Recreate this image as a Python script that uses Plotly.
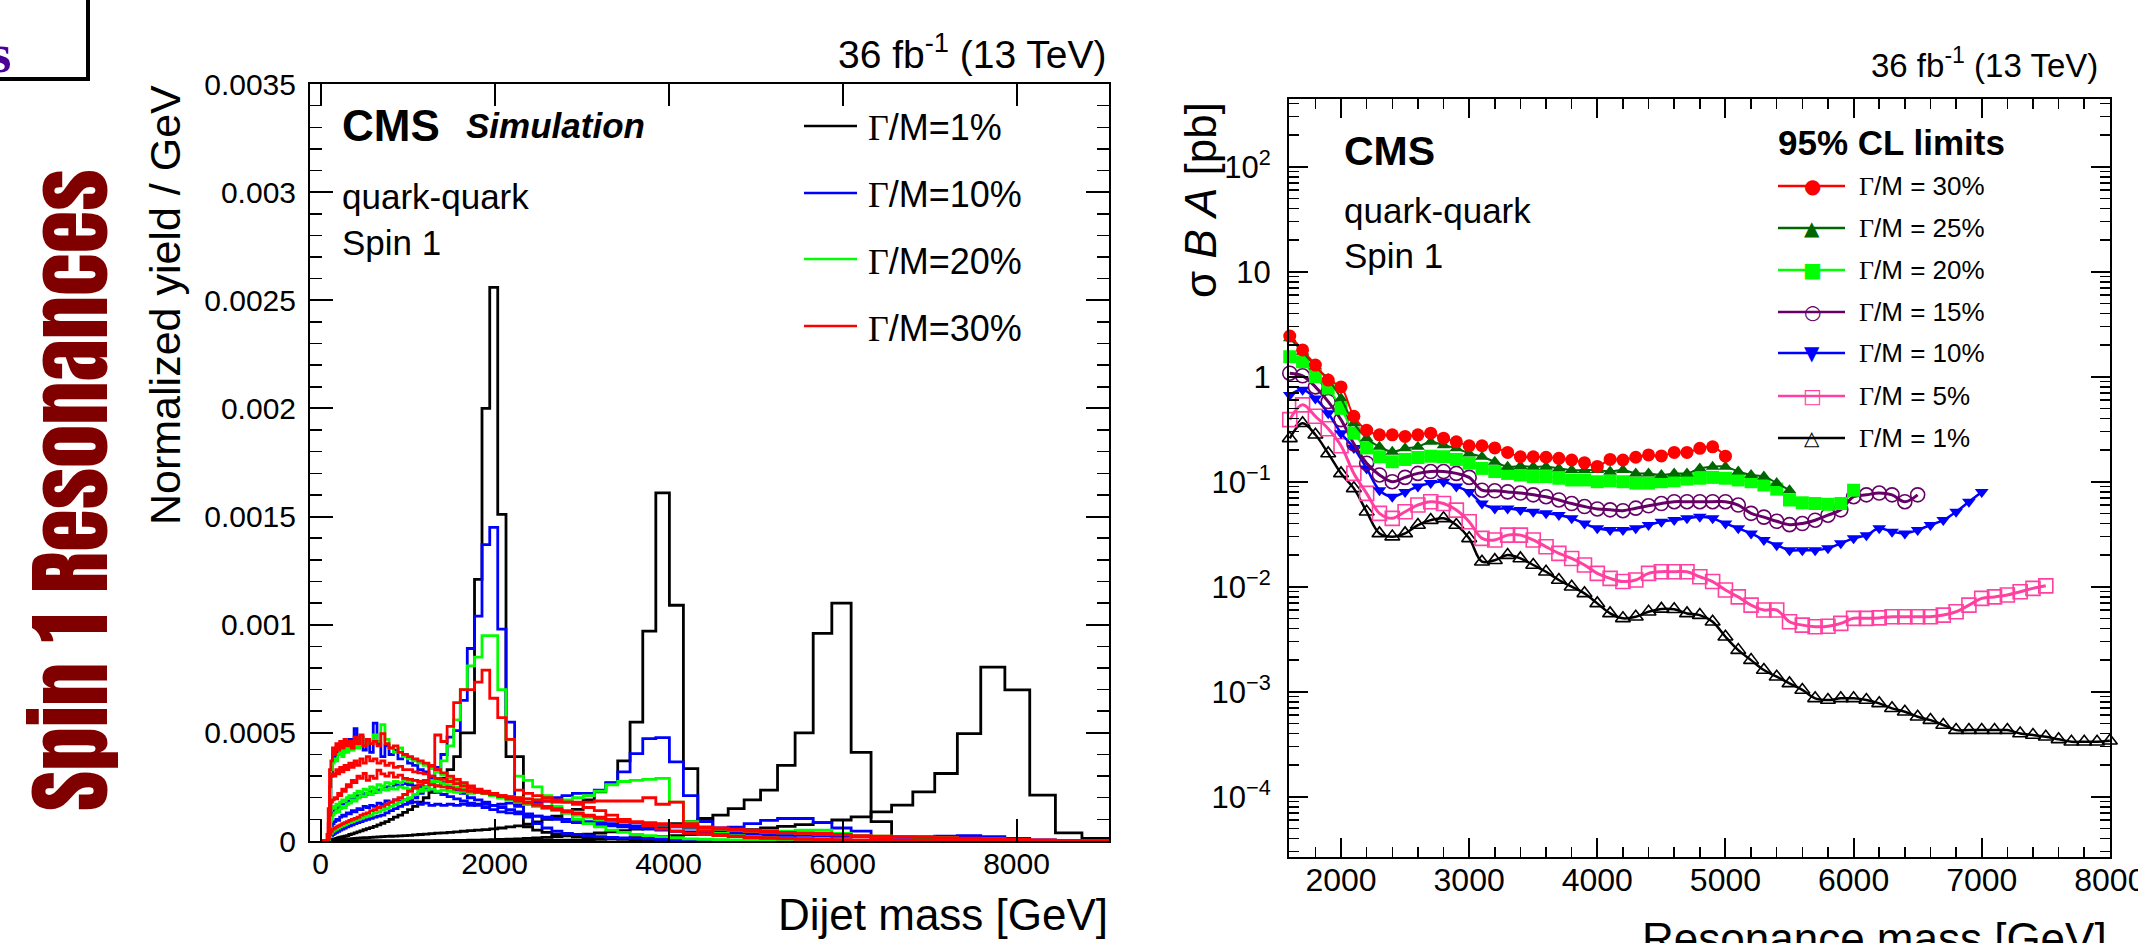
import plotly.graph_objects as go

W, H = 2138, 943
SANS = "Liberation Sans, Arial, Helvetica, sans-serif"

# ---------------- Left panel: dijet mass shapes (values in units of 1e-4 per GeV) ----------------
mjj_edges = [1, 3, 6, 10, 16, 23, 31, 40, 50, 61,
             74, 88, 103, 119, 137, 156, 176, 197, 220, 244,
             270, 296, 325, 354, 386, 419, 453, 489, 526, 565,
             606, 649, 693, 740, 788, 838, 890, 944, 1000, 1058,
             1118, 1181, 1246, 1313, 1383, 1455, 1530, 1607, 1687, 1770,
             1856, 1945, 2037, 2132, 2231, 2332, 2438, 2546, 2659, 2775,
             2895, 3019, 3147, 3279, 3416, 3558, 3704, 3854, 4010, 4171,
             4337, 4509, 4686, 4869, 5058, 5253, 5455, 5663, 5877, 6099,
             6328, 6564, 6808, 7060, 7320, 7589, 7866, 8152, 8447, 8752,
             9067]
yield_unit = 1e-4

w1_m2000 = [0, 0, 0, 0, 0, 0, 0, 0, 0, 0,
            0, 0, 0.03, 0.05, 0.08, 0.1, 0.12, 0.15, 0.18, 0.2,
            0.22, 0.25, 0.3, 0.33, 0.38, 0.42, 0.47, 0.52, 0.57, 0.62,
            0.68, 0.75, 0.82, 0.9, 1.0, 1.1, 1.2, 1.32, 1.45, 1.6,
            1.8, 2.0, 2.25, 2.55, 2.9, 3.3, 3.9, 5.0, 5.0, 12.1,
            20.0, 25.6, 15.1, 3.9, 3.9, 0.66, 0.5, 0.4, 0.3, 0.25,
            0.2, 0.15, 0.12, 0.1, 0.08, 0.06, 0.05, 0.04, 0.03, 0.02,
            0.02, 0.01, 0.01, 0, 0, 0, 0, 0, 0, 0,
            0, 0, 0, 0, 0, 0, 0, 0, 0, 0]
w1_m4000 = [0, 0, 0, 0, 0, 0, 0, 0, 0, 0,
            0, 0, 0, 0.01, 0.02, 0.03, 0.04, 0.05, 0.06, 0.07,
            0.08, 0.09, 0.1, 0.11, 0.12, 0.13, 0.14, 0.15, 0.16, 0.17,
            0.18, 0.19, 0.2, 0.21, 0.22, 0.23, 0.24, 0.25, 0.26, 0.28,
            0.3, 0.32, 0.34, 0.36, 0.38, 0.4, 0.42, 0.45, 0.48, 0.5,
            0.53, 0.56, 0.6, 0.65, 0.7, 0.78, 0.88, 1.0, 1.15, 1.3,
            1.46, 1.9, 2.27, 2.7, 3.7, 5.5, 9.7, 16.1, 10.9, 3.35,
            1.05, 0.5, 0.3, 0.2, 0.15, 0.1, 0.08, 0.05, 0.03, 0.02,
            0.01, 0.01, 0, 0, 0, 0, 0, 0, 0, 0]
w1_m6000 = [0, 0, 0, 0, 0, 0, 0, 0, 0, 0,
            0, 0, 0, 0, 0, 0, 0, 0, 0, 0,
            0, 0, 0, 0, 0, 0, 0, 0, 0, 0,
            0, 0, 0, 0, 0, 0, 0, 0, 0, 0,
            0.01, 0.01, 0.01, 0.02, 0.02, 0.02, 0.03, 0.03, 0.04, 0.04,
            0.05, 0.06, 0.07, 0.08, 0.1, 0.12, 0.14, 0.17, 0.2, 0.24,
            0.28, 0.32, 0.37, 0.42, 0.48, 0.55, 0.62, 0.7, 0.8, 0.9,
            1.0, 1.2, 1.5, 1.9, 2.35, 3.5, 5.0, 9.6, 11.0, 4.1,
            0.9, 0.2, 0.1, 0.05, 0.02, 0, 0, 0, 0, 0]
w1_m8000 = [0, 0, 0, 0, 0, 0, 0, 0, 0, 0,
            0, 0, 0, 0, 0, 0, 0, 0, 0, 0,
            0, 0, 0, 0, 0, 0, 0, 0, 0, 0,
            0, 0, 0, 0, 0, 0, 0, 0, 0, 0,
            0, 0, 0, 0, 0, 0, 0, 0, 0, 0,
            0.01, 0.01, 0.01, 0.02, 0.02, 0.02, 0.03, 0.03, 0.04, 0.04,
            0.05, 0.06, 0.08, 0.1, 0.12, 0.15, 0.18, 0.21, 0.25, 0.3,
            0.35, 0.4, 0.46, 0.52, 0.6, 0.68, 0.76, 0.85, 0.97, 1.12,
            1.35, 1.66, 2.27, 3.12, 4.96, 8.04, 6.99, 2.12, 0.38, 0.12]

w10_m2000 = [0, 0, 0, 0, 0, 0, 0, 0, 0, 0,
             0, 0.05, 0.15, 0.25, 0.3, 0.35, 0.4, 0.45, 0.5, 0.55,
             0.6, 0.65, 0.7, 0.75, 0.8, 0.85, 0.9, 0.95, 1.0, 1.05,
             1.1, 1.15, 1.2, 1.3, 1.4, 1.5, 1.6, 1.7, 1.85, 2.0,
             2.2, 2.5, 2.9, 3.4, 4.0, 4.8, 5.1, 6.5, 8.9, 10.4,
             13.7, 14.5, 9.8, 5.5, 1.6, 1.1, 0.8, 0.6, 0.45, 0.35,
             0.3, 0.25, 0.2, 0.17, 0.14, 0.12, 0.1, 0.08, 0.07, 0.06,
             0.05, 0.04, 0.03, 0.02, 0.02, 0.01, 0.01, 0, 0, 0,
             0, 0, 0, 0, 0, 0, 0, 0, 0, 0]
w10_m4000 = [0, 0, 0, 0, 0, 0, 0, 0, 0, 0,
             0, 0.1, 0.4, 0.7, 0.8, 0.9, 1.0, 0.95, 1.1, 1.2,
             1.15, 1.3, 1.25, 1.4, 1.35, 1.5, 1.45, 1.6, 1.55, 1.65,
             1.6, 1.75, 1.7, 1.85, 1.8, 1.9, 1.85, 1.9, 1.75, 1.8,
             1.7, 1.75, 1.65, 1.7, 1.65, 1.7, 1.65, 1.7, 1.65, 1.7,
             1.7, 1.65, 1.7, 1.75, 1.7, 1.75, 1.8, 1.85, 2.0, 2.1,
             2.2, 2.2, 2.35, 2.66, 3.2, 4.04, 4.73, 4.78, 3.66, 2.1,
             0.9, 0.5, 0.35, 0.25, 0.2, 0.15, 0.1, 0.08, 0.05, 0.03,
             0.02, 0.01, 0, 0, 0, 0, 0, 0, 0, 0]
w10_m6000 = [0, 0, 0, 0, 0, 0, 0, 0, 0, 0,
             0, 0.2, 0.8, 1.2, 1.3, 1.4, 1.35, 1.55, 1.5, 1.7,
             1.65, 1.85, 1.8, 2.0, 1.95, 2.1, 2.05, 2.2, 2.15, 2.3,
             2.25, 2.35, 2.4, 2.5, 2.45, 2.6, 2.55, 2.65, 2.6, 2.55,
             2.5, 2.45, 2.35, 2.25, 2.15, 2.05, 1.95, 1.85, 1.75, 1.65,
             1.55, 1.45, 1.35, 1.3, 1.25, 1.2, 1.15, 1.1, 1.05, 1.0,
             0.95, 0.9, 0.85, 0.8, 0.75, 0.7, 0.7, 0.65, 0.65, 0.6,
             0.6, 0.6, 0.64, 0.8, 0.95, 1.04, 1.04, 0.85, 0.6, 0.46,
             0.15, 0.05, 0, 0, 0, 0, 0, 0, 0, 0]
w10_m8000 = [0, 0, 0, 0, 0, 0, 0, 0, 0, 0,
             0, 0.3, 1.5, 3.0, 4.0, 3.7, 4.3, 4.0, 4.5, 4.1,
             4.6, 4.2, 4.7, 4.3, 5.2, 4.4, 4.8, 4.2, 4.6, 4.1,
             5.45, 4.5, 3.9, 4.4, 4.0, 4.2, 3.8, 3.9, 3.6, 3.5,
             3.3, 3.2, 3.0, 2.8, 2.7, 2.5, 2.3, 2.2, 2.0, 1.9,
             1.8, 1.65, 1.55, 1.45, 1.35, 1.25, 1.15, 1.05, 1.0, 0.9,
             0.85, 0.8, 0.75, 0.7, 0.65, 0.6, 0.55, 0.5, 0.45, 0.42,
             0.4, 0.38, 0.35, 0.33, 0.3, 0.28, 0.26, 0.24, 0.22, 0.2,
             0.2, 0.18, 0.2, 0.22, 0.25, 0.2, 0.12, 0.05, 0.02, 0]

w20_m2000 = [0, 0, 0, 0, 0, 0, 0, 0, 0, 0,
             0, 0.05, 0.2, 0.35, 0.45, 0.5, 0.55, 0.6, 0.65, 0.7,
             0.75, 0.8, 0.85, 0.9, 0.95, 1.0, 1.05, 1.1, 1.15, 1.2,
             1.3, 1.35, 1.45, 1.5, 1.6, 1.7, 1.8, 1.9, 2.0, 2.15,
             2.3, 2.5, 2.8, 3.2, 3.7, 4.4, 5.6, 7.0, 8.1, 8.5,
             9.5, 9.5, 7.0, 4.7, 3.0, 2.8, 2.5, 2.1, 1.6, 1.3,
             1.0, 0.8, 0.65, 0.5, 0.4, 0.3, 0.25, 0.2, 0.15, 0.1,
             0.08, 0.06, 0.05, 0.04, 0.03, 0.02, 0.01, 0, 0, 0,
             0, 0, 0, 0, 0, 0, 0, 0, 0, 0]
w20_m4000 = [0, 0, 0, 0, 0, 0, 0, 0, 0, 0,
             0, 0.1, 0.6, 1.0, 1.2, 1.3, 1.4, 1.35, 1.5, 1.6,
             1.55, 1.7, 1.75, 1.9, 1.85, 2.0, 2.1, 2.05, 2.2, 2.15,
             2.3, 2.25, 2.4, 2.35, 2.45, 2.4, 2.5, 2.45, 2.4, 2.45,
             2.4, 2.35, 2.4, 2.3, 2.35, 2.3, 2.25, 2.3, 2.2, 2.25,
             2.2, 2.15, 2.1, 2.05, 2.0, 1.95, 1.9, 1.9, 1.85, 1.9,
             2.0, 2.1, 2.3, 2.6, 2.75, 2.8, 2.85, 2.9, 1.8, 0.9,
             0.5, 0.35, 0.25, 0.2, 0.15, 0.1, 0.08, 0.05, 0.03, 0.02,
             0.01, 0, 0, 0, 0, 0, 0, 0, 0, 0]
w20_m6000 = [0, 0, 0, 0, 0, 0, 0, 0, 0, 0,
             0, 0.2, 0.9, 1.5, 1.6, 1.55, 1.7, 1.65, 1.8, 1.9,
             1.85, 2.0, 2.1, 2.05, 2.2, 2.3, 2.25, 2.4, 2.35, 2.5,
             2.45, 2.6, 2.55, 2.7, 2.65, 2.75, 2.7, 2.8, 2.75, 2.8,
             2.75, 2.8, 2.7, 2.75, 2.65, 2.6, 2.5, 2.45, 2.35, 2.3,
             2.2, 2.1, 2.0, 1.9, 1.8, 1.7, 1.6, 1.5, 1.4, 1.3,
             1.2, 1.1, 1.0, 0.95, 0.9, 0.85, 0.8, 0.75, 0.7, 0.65,
             0.6, 0.55, 0.5, 0.48, 0.46, 0.46, 0.5, 0.5, 0.35, 0.2,
             0.08, 0.03, 0, 0, 0, 0, 0, 0, 0, 0]
w20_m8000 = [0, 0, 0, 0, 0, 0, 0, 0, 0, 0,
             0, 0.3, 1.8, 3.3, 3.6, 3.8, 3.7, 4.0, 4.2, 3.9,
             4.3, 4.1, 4.4, 4.2, 4.6, 4.3, 4.8, 4.4, 4.7, 4.5,
             4.9, 4.6, 5.38, 4.7, 4.3, 4.1, 4.3, 3.9, 3.8, 3.7,
             3.6, 3.5, 3.35, 3.2, 3.05, 2.9, 2.75, 2.6, 2.45, 2.3,
             2.2, 2.1, 2.0, 1.9, 1.8, 1.7, 1.6, 1.5, 1.4, 1.3,
             1.2, 1.1, 1.0, 0.95, 0.9, 0.85, 0.8, 0.75, 0.7, 0.65,
             0.6, 0.55, 0.5, 0.45, 0.4, 0.38, 0.35, 0.33, 0.3, 0.25,
             0.22, 0.2, 0.18, 0.15, 0.12, 0.1, 0.06, 0.03, 0.01, 0]

w30_m2000 = [0, 0, 0, 0, 0, 0, 0, 0, 0, 0,
             0, 0.1, 0.3, 0.45, 0.55, 0.6, 0.65, 0.7, 0.75, 0.8,
             0.85, 0.9, 0.95, 1.0, 1.05, 1.1, 1.2, 1.25, 1.3, 1.4,
             1.45, 1.55, 1.6, 1.7, 1.8, 1.9, 2.0, 2.15, 2.3, 2.45,
             2.6, 2.8, 3.5, 4.9, 4.6, 5.3, 6.4, 7.0, 7.0, 7.35,
             7.9, 6.6, 5.7, 4.7, 2.35, 2.2, 2.1, 2.0, 1.9, 1.8,
             1.7, 1.55, 1.4, 1.2, 1.0, 0.85, 0.7, 0.55, 0.45, 0.35,
             0.3, 0.25, 0.2, 0.15, 0.12, 0.1, 0.08, 0.05, 0.03, 0.02,
             0.01, 0, 0, 0, 0, 0, 0, 0, 0, 0]
w30_m4000 = [0, 0, 0, 0, 0, 0, 0, 0, 0, 0,
             0, 0.4, 1.2, 1.8, 1.9, 2.0, 1.95, 2.2, 2.1, 2.4,
             2.3, 2.6, 2.5, 2.8, 2.7, 3.0, 2.9, 3.12, 2.8, 3.0,
             2.9, 3.27, 3.1, 3.0, 3.15, 2.95, 3.05, 2.9, 2.85, 2.8,
             2.75, 2.7, 2.6, 2.55, 2.5, 2.45, 2.4, 2.35, 2.3, 2.25,
             2.2, 2.15, 2.1, 2.05, 2.0, 1.95, 1.9, 1.85, 1.8, 1.8,
             1.8, 1.8, 1.85, 1.85, 1.85, 1.85, 2.0, 1.7, 1.8, 0.8,
             0.45, 0.3, 0.22, 0.18, 0.15, 0.12, 0.1, 0.08, 0.06, 0.05,
             0.04, 0.03, 0.02, 0.01, 0, 0, 0, 0, 0, 0]
w30_m6000 = [0, 0, 0, 0, 0, 0, 0, 0, 0, 0,
             0, 0.8, 2.5, 3.0, 3.1, 3.0, 3.3, 3.1, 3.4, 3.2,
             3.5, 3.3, 3.6, 3.4, 3.7, 3.5, 3.8, 3.6, 3.9, 3.7,
             3.8, 3.6, 3.7, 3.5, 3.6, 3.4, 3.45, 3.3, 3.3, 3.2,
             3.15, 3.1, 3.0, 2.9, 2.85, 2.75, 2.65, 2.55, 2.45, 2.35,
             2.25, 2.15, 2.05, 1.95, 1.85, 1.75, 1.65, 1.55, 1.45, 1.35,
             1.25, 1.15, 1.05, 0.95, 0.9, 0.85, 0.8, 0.75, 0.7, 0.65,
             0.6, 0.55, 0.5, 0.45, 0.4, 0.38, 0.38, 0.36, 0.3, 0.2,
             0.1, 0.05, 0.02, 0, 0, 0, 0, 0, 0, 0]
w30_m8000 = [0, 0, 0, 0, 0, 0, 0, 0, 0, 0,
             0.3, 1.5, 3.3, 3.7, 4.3, 4.0, 4.5, 4.2, 4.6, 4.3,
             4.7, 4.4, 4.6, 4.3, 4.8, 4.5, 4.9, 4.4, 4.7, 4.5,
             4.6, 4.4, 4.96, 4.5, 4.3, 4.4, 4.1, 4.0, 3.9, 3.8,
             3.7, 3.6, 3.45, 3.3, 3.15, 3.0, 2.85, 2.7, 2.55, 2.4,
             2.3, 2.2, 2.1, 2.0, 1.9, 1.8, 1.7, 1.6, 1.5, 1.4,
             1.3, 1.2, 1.1, 1.0, 0.95, 0.9, 0.85, 0.8, 0.75, 0.7,
             0.65, 0.6, 0.55, 0.5, 0.45, 0.4, 0.35, 0.3, 0.28, 0.25,
             0.22, 0.2, 0.18, 0.15, 0.13, 0.1, 0.08, 0.05, 0.03, 0.01]

left_series = [
    ("Γ/M=1%", "#000000", [w1_m2000, w1_m4000, w1_m6000, w1_m8000]),
    ("Γ/M=10%", "#0000FF", [w10_m2000, w10_m4000, w10_m6000, w10_m8000]),
    ("Γ/M=20%", "#00FF00", [w20_m2000, w20_m4000, w20_m6000, w20_m8000]),
    ("Γ/M=30%", "#FF0000", [w30_m2000, w30_m4000, w30_m6000, w30_m8000]),
]
left_xtick_vals = [0, 2000, 4000, 6000, 8000]
left_xtick_text = ["0", "2000", "4000", "6000", "8000"]
left_ytick_vals = [0, 0.0005, 0.001, 0.0015, 0.002, 0.0025, 0.003, 0.0035]
left_ytick_text = ["0", "0.0005", "0.001", "0.0015", "0.002", "0.0025", "0.003", "0.0035"]

# ---------------- Right panel: 95% CL limits on sigma*B*A [pb] ----------------
res_mass = [1600, 1700, 1800, 1900, 2000, 2100, 2200, 2300, 2400, 2500,
            2600, 2700, 2800, 2900, 3000, 3100, 3200, 3300, 3400, 3500,
            3600, 3700, 3800, 3900, 4000, 4100, 4200, 4300, 4400, 4500,
            4600, 4700, 4800, 4900, 5000, 5100, 5200, 5300, 5400, 5500,
            5600, 5700, 5800, 5900, 6000, 6100, 6200, 6300, 6400, 6500,
            6600, 6700, 6800, 6900, 7000, 7100, 7200, 7300, 7400, 7500,
            7600, 7700, 7800, 7900, 8000]
limit_w30 = [2.44, 1.80, 1.29, 0.93, 0.80, 0.42, 0.31, 0.28, 0.28, 0.27,
             0.28, 0.29, 0.26, 0.24, 0.22, 0.22, 0.21, 0.19, 0.173, 0.173,
             0.171, 0.167, 0.161, 0.152, 0.14, 0.163, 0.161, 0.171, 0.180, 0.176,
             0.19, 0.19, 0.208, 0.215, 0.175]
limit_w25 = [2.32, 1.73, 1.25, 0.95, 0.62, 0.36, 0.26, 0.215, 0.193, 0.208,
             0.215, 0.24, 0.223, 0.208, 0.186, 0.173, 0.155, 0.139, 0.141, 0.139,
             0.139, 0.134, 0.129, 0.129, 0.129, 0.125, 0.129, 0.120, 0.120, 0.116,
             0.120, 0.120, 0.134, 0.139, 0.139, 0.125, 0.116, 0.112, 0.097, 0.083]
limit_w20 = [1.55, 1.39, 1.0, 0.78, 0.50, 0.29, 0.21, 0.173, 0.155, 0.163,
             0.170, 0.175, 0.173, 0.163, 0.15, 0.134, 0.125, 0.12, 0.116, 0.112,
             0.112, 0.108, 0.104, 0.104, 0.100, 0.102, 0.100, 0.097, 0.097, 0.100,
             0.102, 0.106, 0.108, 0.110, 0.108, 0.104, 0.100, 0.093, 0.085, 0.067,
             0.063, 0.062, 0.061, 0.062, 0.083]
limit_w15 = [1.08, 1.02, 0.80, 0.58, 0.39, 0.23, 0.15, 0.116, 0.100, 0.110,
             0.12, 0.125, 0.125, 0.12, 0.11, 0.083, 0.082, 0.080, 0.078, 0.075,
             0.072, 0.067, 0.062, 0.058, 0.055, 0.054, 0.053, 0.056, 0.059, 0.062,
             0.0645, 0.0645, 0.0645, 0.0645, 0.0645, 0.060, 0.050, 0.046, 0.042, 0.039,
             0.040, 0.043, 0.048, 0.054, 0.072, 0.075, 0.078, 0.075, 0.0645, 0.075]
limit_w10 = [0.67, 0.75, 0.62, 0.45, 0.29, 0.21, 0.134, 0.083, 0.072, 0.080,
             0.090, 0.097, 0.100, 0.090, 0.080, 0.062, 0.0557, 0.0557, 0.0537, 0.0518,
             0.050, 0.0482, 0.0448, 0.040, 0.036, 0.0347, 0.0347, 0.036, 0.0387, 0.0416,
             0.0431, 0.0448, 0.0464, 0.0448, 0.040, 0.036, 0.0322, 0.0279, 0.0249, 0.0223,
             0.0223, 0.0223, 0.0232, 0.0259, 0.0289, 0.031, 0.036, 0.0334, 0.0322, 0.0347,
             0.0387, 0.0431, 0.0518, 0.0645, 0.080]
limit_w5 = [0.39, 0.54, 0.42, 0.32, 0.22, 0.12, 0.0775, 0.050, 0.0448, 0.0518,
            0.060, 0.0645, 0.062, 0.0537, 0.0416, 0.0289, 0.0279, 0.031, 0.031, 0.0279,
            0.024, 0.0208, 0.0186, 0.0161, 0.0134, 0.012, 0.0112, 0.0116, 0.0134, 0.0139,
            0.0139, 0.0139, 0.01245, 0.0112, 0.0093, 0.0080, 0.00668, 0.0060, 0.0060, 0.00464,
            0.00431, 0.00416, 0.0042, 0.00448, 0.0050, 0.0050, 0.00505, 0.00518, 0.00518, 0.00518,
            0.00518, 0.00537, 0.00578, 0.00668, 0.00775, 0.0080, 0.00834, 0.00896, 0.00965, 0.0102]
limit_w1 = [0.259, 0.36, 0.28, 0.186, 0.12, 0.0865, 0.0518, 0.0322, 0.030, 0.0322,
            0.0387, 0.0431, 0.0448, 0.0387, 0.0289, 0.0173, 0.0179, 0.020, 0.0186, 0.0161,
            0.0139, 0.0116, 0.010, 0.00865, 0.00694, 0.00557, 0.0050, 0.00518, 0.00578, 0.00615,
            0.0061, 0.00557, 0.00537, 0.00464, 0.00334, 0.00249, 0.0020, 0.00161, 0.00139, 0.0012,
            0.00104, 0.000865, 0.000834, 0.000865, 0.000865, 0.000834, 0.000775, 0.000695, 0.000645, 0.000578,
            0.000537, 0.000482, 0.000431, 0.000431, 0.000431, 0.000431, 0.000431, 0.0004, 0.000387, 0.000373,
            0.000352, 0.000334, 0.000334, 0.000334, 0.000341]

right_series = [
    ("Γ/M = 30%", limit_w30, "#FF0000", "circle", 13, 2, "●"),
    ("Γ/M = 25%", limit_w25, "#006600", "triangle-up", 12, 2, "▲"),
    ("Γ/M = 20%", limit_w20, "#00FF00", "square", 13, 2, "■"),
    ("Γ/M = 15%", limit_w15, "#660066", "circle-open", 14, 3, "○"),
    ("Γ/M = 10%", limit_w10, "#0000FF", "triangle-down", 12, 2.5, "▼"),
    ("Γ/M = 5%", limit_w5, "#FF40A0", "square-open", 14, 3, "□"),
    ("Γ/M = 1%", limit_w1, "#000000", "triangle-up-open", 13, 2.5, "△"),
]
right_xtick_vals = [2000, 3000, 4000, 5000, 6000, 7000, 8000]
right_xtick_text = ["2000", "3000", "4000", "5000", "6000", "7000", "8000"]
right_ytick_vals = [1e-4, 1e-3, 1e-2, 1e-1, 1, 10, 100]
right_ytick_text = ["10<sup>−4</sup>", "10<sup>−3</sup>", "10<sup>−2</sup>", "10<sup>−1</sup>",
                    "1", "10", "10<sup>2</sup>"]


# ---------------- helpers for placement in canvas pixels ----------------
def px(x):
    return x / W


def py(y):
    return 1 - y / H


def ann(text, x, y, size, xanchor="left", yanchor="middle", color="black",
        family=SANS, angle=0, weight="normal", style="normal"):
    return dict(text=text, x=px(x), y=py(y), xref="paper", yref="paper",
                xanchor=xanchor, yanchor=yanchor, showarrow=False, textangle=angle,
                borderpad=0, borderwidth=0,
                font=dict(size=size, color=color, family=family, weight=weight, style=style))


def gamma(txt):
    return '<span style="font-family:Liberation Serif, Times New Roman, serif">Γ</span>' + txt


fig = go.Figure()

for label, color, hists in left_series:
    for vals in hists:
        yv = [v * yield_unit for v in vals]
        fig.add_trace(go.Scatter(
            x=mjj_edges, y=yv + [yv[-1]], mode="lines", line_shape="hv",
            line=dict(color=color, width=2.8), xaxis="x", yaxis="y",
            showlegend=False, hoverinfo="skip"))

for label, vals, color, symbol, msize, lw, glyph in reversed(right_series):
    fig.add_trace(go.Scatter(
        x=res_mass[:len(vals)], y=vals, mode="lines+markers",
        line=dict(color=color, width=lw, shape="spline", smoothing=1.0),
        marker=dict(symbol=symbol, size=msize, color=color,
                    line=dict(color=color, width=1.6 if "open" in symbol else 0)),
        xaxis="x2", yaxis="y2", cliponaxis=False, showlegend=False, hoverinfo="skip"))

axis_common = dict(showline=True, linecolor="black", linewidth=2, mirror="ticks",
                   ticks="inside", tickcolor="black", tickwidth=2, showgrid=False,
                   zeroline=False, automargin=False,
                   tickfont=dict(family=SANS, size=30, color="black"))

annotations = []
shapes = []

shapes.append(dict(type="rect", xref="paper", yref="paper",
                   x0=px(-20), x1=px(88), y0=py(-20), y1=py(79),
                   line=dict(color="black", width=4)))
annotations.append(ann("s", 11, 54, 55, xanchor="right", color="#4B0096",
                       family="Liberation Serif, Times New Roman, serif", weight="bold"))
annotations.append(ann("Spin 1 Resonances", 70, 490, 87, xanchor="center", color="#800000",
                       family="Anton, Oswald, League Gothic, Archivo Narrow, sans-serif",
                       angle=-90))

annotations += [
    ann("36 fb<sup>-1</sup> (13 TeV)", 1107, 52, 39, xanchor="right"),
    ann("CMS", 342, 126, 44, weight="bold"),
    ann("Simulation", 466, 125, 35, weight="bold", style="italic"),
    ann("quark-quark", 342, 196, 35),
    ann("Spin 1", 342, 243, 35),
    ann("Normalized yield / GeV", 165, 305, 43, xanchor="center", angle=-90),
    ann("Dijet mass [GeV]", 1108, 914, 44, xanchor="right"),
]
left_rows = [126, 193, 259, 326]
for (label, color, _), ry in zip(left_series, left_rows):
    shapes.append(dict(type="line", xref="paper", yref="paper",
                       x0=px(804), x1=px(857), y0=py(ry), y1=py(ry),
                       line=dict(color=color, width=2.5)))
    annotations.append(ann(gamma(label[1:]), 868, ry + 2, 36))

annotations += [
    ann("36 fb<sup>-1</sup> (13 TeV)", 2098, 63, 33, xanchor="right"),
    ann("CMS", 1344, 151, 41, weight="bold"),
    ann("quark-quark", 1344, 210, 35),
    ann("Spin 1", 1344, 256, 35),
    ann("95% CL limits", 1891, 143, 35, xanchor="center", weight="bold"),
    ann("σ <i>B</i> <i>A</i> [pb]", 1200, 200, 44, xanchor="center", angle=-90),
    ann("Resonance mass [GeV]", 2107, 938, 44, xanchor="right"),
]
right_rows = [186, 228, 270, 312, 353, 396, 438]
for (label, vals, color, symbol, msize, lw, glyph), ry in zip(right_series, right_rows):
    shapes.append(dict(type="line", xref="paper", yref="paper",
                       x0=px(1778), x1=px(1845), y0=py(ry), y1=py(ry),
                       line=dict(color=color, width=2.5)))
    annotations.append(ann(glyph, 1812, ry, 20, xanchor="center", color=color,
                           family="DejaVu Sans, sans-serif"))
    annotations.append(ann(gamma(label[1:]), 1859, ry, 26))

fig.update_layout(
    template="none",
    width=W, height=H,
    margin=dict(l=0, r=0, t=0, b=0, pad=0, autoexpand=False),
    paper_bgcolor="white", plot_bgcolor="white",
    font=dict(family=SANS, color="black"),
    showlegend=False,
    xaxis=dict(domain=[px(310), px(1109)], range=[-121, 9063], anchor="y",
               tickmode="array", tickvals=left_xtick_vals, ticktext=left_xtick_text,
               ticklen=22, ticklabelstandoff=-5, **axis_common),
    yaxis=dict(domain=[py(841), py(84)], range=[0, 0.0035], anchor="x",
               tickmode="array", tickvals=left_ytick_vals, ticktext=left_ytick_text,
               ticklen=23, ticklabelstandoff=6,
               minor=dict(ticks="inside", ticklen=12, tickwidth=1.5, tickcolor="black",
                          dtick=0.0001, tick0=0, showgrid=False),
               **axis_common),
    xaxis2=dict(domain=[px(1289), px(2110)], range=[1594, 8001], anchor="y2",
                tickmode="array", tickvals=right_xtick_vals, ticktext=right_xtick_text,
                ticklen=19, ticklabelstandoff=-6, ticklabeloverflow="allow",
                minor=dict(ticks="inside", ticklen=10, tickwidth=1.5, tickcolor="black",
                           dtick=200, tick0=0, showgrid=False),
                **{**axis_common, "tickfont": dict(family=SANS, size=32, color="black")}),
    yaxis2=dict(domain=[py(857), py(99)], type="log", range=[-4.574, 2.645], anchor="x2",
                tickmode="array", tickvals=right_ytick_vals, ticktext=right_ytick_text,
                ticklen=19, ticklabelstandoff=10,
                minor=dict(ticks="inside", ticklen=10, tickwidth=1.5, tickcolor="black",
                           dtick="D1", showgrid=False),
                **{**axis_common, "tickfont": dict(family=SANS, size=31, color="black")}),
    annotations=annotations,
    shapes=shapes,
)

fig.write_html("out.html", include_plotlyjs=True, full_html=True,
               config={"displayModeBar": False, "staticPlot": True},
               post_script="document.body.style.margin='0';document.body.style.overflow='hidden';")
